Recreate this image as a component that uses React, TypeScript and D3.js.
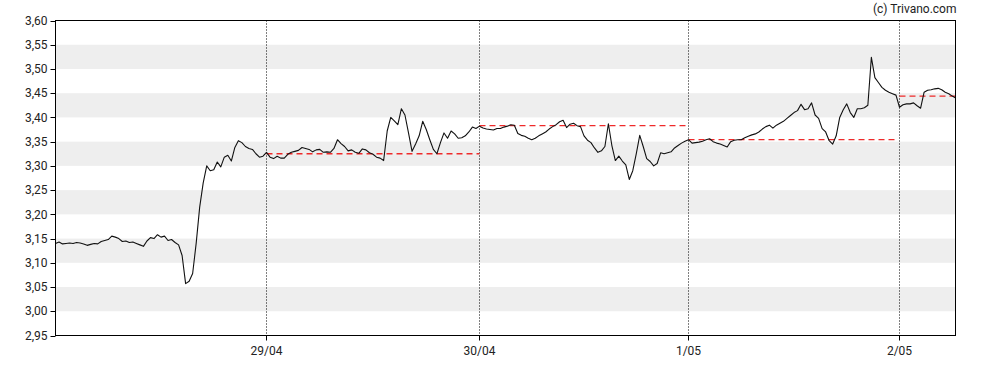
import React from 'react';
import * as d3 from 'd3';

const W = 988;
const H = 370;
const plot = { left: 55.5, right: 955.5, top: 20.5, bottom: 335.5 };

// x axis: one chart point per trading minute, days have different lengths
const dayLabels = ['29/04', '30/04', '1/05', '2/05'];
const pointsPerDay = [211, 213, 209, 211, 56];

const yTicks = [2.95, 3.0, 3.05, 3.1, 3.15, 3.2, 3.25, 3.3, 3.35, 3.4, 3.45, 3.5, 3.55, 3.6];

// prices, sampled evenly inside each session (60 samples per full day)
const samplesPerDay = 60;

const day0 = [
  3.14, 3.143, 3.139, 3.14, 3.141, 3.14, 3.142, 3.141, 3.139, 3.136,
  3.138, 3.14, 3.139, 3.144, 3.146, 3.148, 3.155, 3.153, 3.15, 3.144,
  3.145, 3.142, 3.143, 3.14, 3.137, 3.134, 3.145, 3.152, 3.15, 3.158,
  3.153, 3.155, 3.146, 3.148, 3.142, 3.137, 3.115, 3.057, 3.062, 3.078,
  3.14, 3.215, 3.265, 3.3, 3.29, 3.292, 3.308, 3.298, 3.318, 3.322,
  3.31, 3.338, 3.352, 3.348, 3.34, 3.336, 3.334, 3.325, 3.318, 3.32,
];

const day1 = [
  3.328, 3.318, 3.315, 3.32, 3.316, 3.316, 3.324, 3.328, 3.33, 3.332,
  3.338, 3.336, 3.334, 3.329, 3.333, 3.334, 3.328, 3.329, 3.328, 3.336,
  3.354, 3.346, 3.34, 3.331, 3.333, 3.328, 3.326, 3.335, 3.333, 3.327,
  3.324, 3.318, 3.316, 3.311, 3.372, 3.4, 3.393, 3.385, 3.418, 3.405,
  3.368, 3.33, 3.345, 3.362, 3.392, 3.375, 3.354, 3.334, 3.325, 3.348,
  3.368, 3.357, 3.372, 3.366, 3.357, 3.358, 3.362, 3.37, 3.38, 3.377,
];

const day2 = [
  3.382, 3.378, 3.376, 3.375, 3.374, 3.377, 3.377, 3.38, 3.382, 3.385,
  3.384, 3.367, 3.363, 3.361, 3.357, 3.354, 3.357, 3.362, 3.366, 3.37,
  3.376, 3.381, 3.385, 3.391, 3.394, 3.379, 3.386, 3.388, 3.383, 3.381,
  3.362, 3.353, 3.348, 3.337, 3.328, 3.331, 3.34, 3.387, 3.342, 3.311,
  3.32, 3.31, 3.302, 3.272, 3.29, 3.325, 3.363, 3.34, 3.315, 3.309,
  3.3, 3.305, 3.327, 3.325, 3.327, 3.329, 3.337, 3.342, 3.347, 3.351,
];

const day3 = [
  3.354, 3.347, 3.348, 3.349, 3.351, 3.354, 3.356, 3.35, 3.347, 3.345,
  3.342, 3.339, 3.35, 3.353, 3.354, 3.354, 3.358, 3.361, 3.364, 3.366,
  3.37, 3.376, 3.381, 3.384, 3.378, 3.384, 3.388, 3.392, 3.398, 3.404,
  3.41, 3.414, 3.427, 3.416, 3.418, 3.43, 3.405, 3.398, 3.377, 3.37,
  3.352, 3.345, 3.362, 3.4, 3.416, 3.428, 3.41, 3.4, 3.418, 3.418,
  3.42, 3.425, 3.524, 3.482, 3.472, 3.462, 3.456, 3.452, 3.449, 3.446,
];

const day4 = [
  3.421, 3.426, 3.428, 3.428, 3.43, 3.424, 3.419, 3.452, 3.456, 3.457,
  3.459, 3.46, 3.457, 3.452, 3.449, 3.444, 3.44,
];

// previous close reference, drawn across each session from 29/04 on
const prevClose = [3.325, 3.383, 3.354, 3.444];

const days = [day0, day1, day2, day3, day4];
const dayOffsets = pointsPerDay.map((_, i) => d3.sum(pointsPerDay.slice(0, i)));
const totalPoints = d3.sum(pointsPerDay);

const App = () => {
  const x = d3.scaleLinear().domain([0, totalPoints]).range([plot.left, plot.right]);
  const y = d3.scaleLinear().domain([2.95, 3.6]).range([plot.bottom, plot.top]);

  // spread each session's samples over its own length (last day is partial)
  const pts = days.flatMap((vals, d) =>
    vals.map((v, i) => ({
      t: dayOffsets[d] + (i / samplesPerDay) * (d < 4 ? pointsPerDay[d] : pointsPerDay[3]),
      v,
    }))
  );

  const line = d3
    .line<{ t: number; v: number }>()
    .x(d => x(d.t))
    .y(d => y(d.v));

  const fmt = (v: number) => v.toFixed(2).replace('.', ',');
  const font = 'Roboto, "Noto Sans", sans-serif';

  const bands = yTicks.slice(0, -1).filter((_, i) => i % 2 === 1);

  return (
    <svg
      width={W}
      height={H}
      style={{ position: 'absolute', left: 0, top: 0, background: '#fff' }}
      fontFamily={font}
    >
      <defs>
        <clipPath id="plot-clip">
          <rect x={plot.left} y={plot.top} width={plot.right - plot.left} height={plot.bottom - plot.top} />
        </clipPath>
      </defs>

      {bands.map(v => (
        <rect
          key={v}
          x={plot.left}
          y={y(v + 0.05)}
          width={plot.right - plot.left}
          height={y(v) - y(v + 0.05)}
          fill="#eeeeee"
        />
      ))}

      {dayLabels.map((lab, i) => (
        <line
          key={lab}
          x1={x(dayOffsets[i + 1])}
          x2={x(dayOffsets[i + 1])}
          y1={plot.top}
          y2={plot.bottom}
          stroke="#000"
          strokeWidth={1}
          strokeDasharray="1,2"
        />
      ))}

      <g clipPath="url(#plot-clip)">
        {prevClose.map((v, i) => (
          <line
            key={i}
            x1={x(dayOffsets[i + 1])}
            x2={x(dayOffsets[i + 1] + pointsPerDay[i + 1]) - (i === 2 ? 5 : 0)}
            y1={y(v)}
            y2={y(v)}
            stroke="#ee2a2a"
            strokeWidth={1.3}
            strokeDasharray="6,4"
          />
        ))}
        <path d={line(pts) ?? ''} fill="none" stroke="#111" strokeWidth={1.1} strokeLinejoin="round" />
      </g>

      <rect
        x={plot.left}
        y={plot.top}
        width={plot.right - plot.left}
        height={plot.bottom - plot.top}
        fill="none"
        stroke="#000"
        strokeWidth={1}
      />

      {yTicks.map(v => (
        <g key={v}>
          <line x1={plot.left - 5} x2={plot.left} y1={Math.round(y(v)) + 0.5} y2={Math.round(y(v)) + 0.5} stroke="#000" />
          <text x={plot.left - 8} y={y(v)} dy="0.35em" textAnchor="end" fontSize={12} fill="#222">
            {fmt(v)}
          </text>
        </g>
      ))}

      {dayLabels.map((lab, i) => (
        <g key={lab}>
          <line
            x1={x(dayOffsets[i + 1])}
            x2={x(dayOffsets[i + 1])}
            y1={plot.bottom}
            y2={plot.bottom + 5}
            stroke="#000"
          />
          <text x={x(dayOffsets[i + 1])} y={plot.bottom + 19} textAnchor="middle" fontSize={12} fill="#222">
            {lab}
          </text>
        </g>
      ))}

      <text x={plot.right + 1} y={13} textAnchor="end" fontSize={12} fill="#222">
        (c) Trivano.com
      </text>
    </svg>
  );
};

export default App;
